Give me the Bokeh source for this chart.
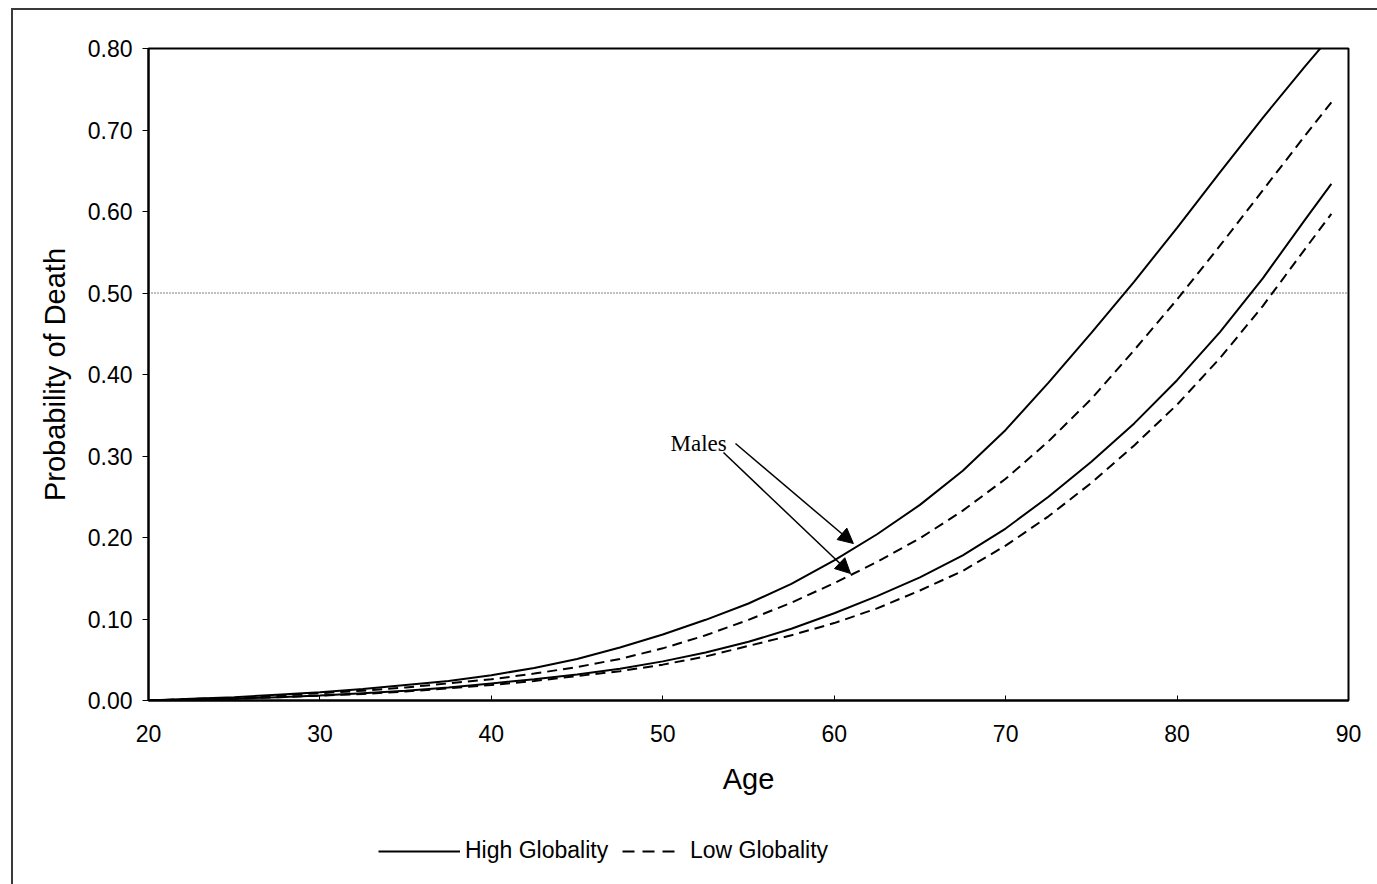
from bokeh.plotting import figure
from bokeh.layouts import column
from bokeh.models import (Range1d, FixedTicker, NumeralTickFormatter, Span, Arrow,
                          NormalHead, Label, Legend, LegendItem)
from bokeh.embed import file_html
from bokeh.resources import INLINE

# ---- data ----
ages = [20, 22.5, 25, 27.5, 30, 32.5, 35, 37.5, 40, 42.5, 45, 47.5, 50, 52.5, 55,
        57.5, 60, 62.5, 65, 67.5, 70, 72.5, 75, 77.5, 80, 82.5, 85, 87.5, 89]
males_high = [0.000, 0.002, 0.004, 0.007, 0.010, 0.014, 0.019, 0.024, 0.031, 0.040,
              0.051, 0.065, 0.081, 0.099, 0.119, 0.143, 0.172, 0.204, 0.240, 0.282,
              0.332, 0.390, 0.451, 0.514, 0.580, 0.648, 0.715, 0.779, 0.816]
males_low = [0.000, 0.002, 0.003, 0.006, 0.009, 0.012, 0.016, 0.021, 0.026, 0.033,
             0.041, 0.051, 0.064, 0.080, 0.099, 0.120, 0.144, 0.170, 0.199, 0.233,
             0.272, 0.318, 0.370, 0.430, 0.492, 0.558, 0.626, 0.694, 0.734]
females_high = [0.000, 0.001, 0.002, 0.004, 0.006, 0.009, 0.012, 0.016, 0.021, 0.026,
                0.032, 0.039, 0.048, 0.059, 0.072, 0.088, 0.107, 0.128, 0.151, 0.178,
                0.211, 0.250, 0.293, 0.340, 0.393, 0.452, 0.518, 0.591, 0.634]
females_low = [0.000, 0.001, 0.002, 0.004, 0.006, 0.008, 0.011, 0.015, 0.019, 0.024,
               0.030, 0.036, 0.044, 0.054, 0.067, 0.080, 0.095, 0.113, 0.135, 0.159,
               0.190, 0.226, 0.267, 0.313, 0.363, 0.420, 0.484, 0.555, 0.597]

x_ticks = [20, 30, 40, 50, 60, 70, 80, 90]
y_ticks = [0.0, 0.1, 0.2, 0.3, 0.4, 0.5, 0.6, 0.7, 0.8]
reference_level = 0.5
series_labels = ["High Globality", "Low Globality"]
annotation_text = "Males"
# annotation anchors (age, probability)
males_label_pos = (50.45, 0.3153)
arrow_starts = [(54.24, 0.3153), (53.54, 0.3043)]
arrow_ends = [(61.12, 0.1926), (60.95, 0.1558)]

FONT = "Liberation Sans"

p = figure(width=1377, height=820, output_backend="svg", toolbar_location=None,
           x_range=Range1d(20, 90), y_range=Range1d(0, 0.8),
           min_border_left=148, min_border_right=29, min_border_top=48,
           min_border_bottom=120)
p.border_fill_color = None
p.background_fill_color = "white"
p.outline_line_color = "black"
p.outline_line_width = 2
p.xgrid.grid_line_color = None
p.ygrid.grid_line_color = None

# axes
p.xaxis.ticker = FixedTicker(ticks=x_ticks)
p.yaxis.ticker = FixedTicker(ticks=y_ticks)
p.yaxis.formatter = NumeralTickFormatter(format="0.00")
for ax in (p.xaxis[0], p.yaxis[0]):
    ax.axis_line_color = "black"
    ax.axis_line_width = 2
    ax.major_tick_line_color = "black"
    ax.major_tick_line_width = 1
    ax.minor_tick_line_color = None
    ax.major_label_text_font = FONT
    ax.major_label_text_font_size = "23px"
    ax.major_label_text_color = "black"
    ax.axis_label_text_font = FONT
    ax.axis_label_text_font_size = "29px"
    ax.axis_label_text_font_style = "normal"
    ax.axis_label_text_color = "black"
p.xaxis.major_tick_in = 5
p.xaxis.major_tick_out = 0
p.xaxis.major_label_standoff = 24
p.xaxis.axis_label = "Age"
p.xaxis.axis_label_standoff = 18
p.yaxis.major_tick_in = 0
p.yaxis.major_tick_out = 6
p.yaxis.major_label_standoff = 10
p.yaxis.axis_label = "Probability of Death"
p.yaxis.axis_label_standoff = 14

# reference line
p.add_layout(Span(location=reference_level, dimension="width", line_color="black",
                  line_width=1, line_dash="1 2"))

# curves
p.line(ages, males_high, line_color="black", line_width=2)
p.line(ages, males_low, line_color="black", line_width=2, line_dash="10 6")
p.line(ages, females_high, line_color="black", line_width=2)
p.line(ages, females_low, line_color="black", line_width=2, line_dash="10 6")

# annotation
p.add_layout(Label(x=males_label_pos[0], y=males_label_pos[1], text=annotation_text,
                   text_font="Liberation Serif", text_font_size="23px",
                   text_color="black", text_baseline="alphabetic"))
for (xs, ys), (xe, ye) in zip(arrow_starts, arrow_ends):
    p.add_layout(Arrow(x_start=xs, y_start=ys, x_end=xe, y_end=ye, line_width=1.5,
                       line_color="black",
                       end=NormalHead(size=15, fill_color="black", line_color="black")))

# legend strip below the chart
leg = figure(width=1377, height=64, output_backend="svg", toolbar_location=None,
             x_range=Range1d(0, 1), y_range=Range1d(0, 1),
             x_axis_location=None, y_axis_location=None,
             min_border_left=0, min_border_right=0, min_border_top=0,
             min_border_bottom=0)
leg.border_fill_color = None
leg.background_fill_color = None
leg.outline_line_color = None
leg.xgrid.grid_line_color = None
leg.ygrid.grid_line_color = None
nan = float("nan")
r_solid = leg.line([nan], [nan], line_color="black", line_width=2)
r_dash = leg.line([nan], [nan], line_color="black", line_width=2, line_dash="12 8")
common = dict(orientation="horizontal", glyph_height=20, padding=0, margin=0,
              border_line_color=None, background_fill_color=None,
              label_text_font=FONT, label_text_font_size="23px",
              label_text_color="black", label_height=20)
leg.add_layout(Legend(items=[LegendItem(label=series_labels[0], renderers=[r_solid])],
                      location=(230, 20), glyph_width=82, label_standoff=5, **common))
leg.add_layout(Legend(items=[LegendItem(label=series_labels[1], renderers=[r_dash])],
                      location=(474, 20), glyph_width=58, label_standoff=10, **common))

layout = column(p, leg, spacing=0)
layout.styles = {"box-shadow": "inset 11px 8px 0 white, inset 13px 10px 0 #3a3a3a"}

open("out.html", "w").write(file_html(layout, INLINE))
